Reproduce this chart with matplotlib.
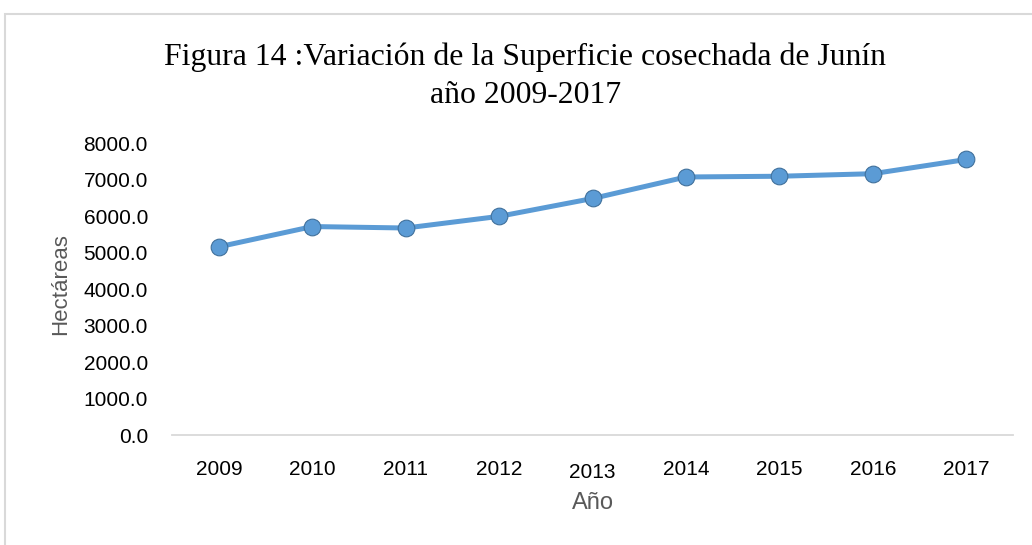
import matplotlib.pyplot as plt
from matplotlib.patches import Rectangle
import matplotlib.transforms as mtransforms

# data
years = ["2009", "2010", "2011", "2012", "2013", "2014", "2015", "2016", "2017"]
hectares = [5165, 5720, 5680, 6000, 6490, 7080, 7100, 7170, 7560]
yticks = [0, 1000, 2000, 3000, 4000, 5000, 6000, 7000, 8000]

title_lines = ["Figura 14 :Variación de la Superficie cosechada de Junín", "año 2009-2017"]
blue = "#5B9BD5"
grey = "#595959"

fig = plt.figure(figsize=(10.32, 5.45), dpi=100)
ax = fig.add_axes([0.167, 0.2018, 0.8146, 0.535])

x = list(range(len(years)))
ax.plot(x, hectares, color=blue, lw=3.6, marker="o", ms=12,
        markerfacecolor=blue, markeredgecolor="#41719C", markeredgewidth=0.8,
        solid_capstyle="round", zorder=3)

ax.set_xlim(-0.5, len(years) - 0.5)
ax.set_ylim(0, 8000)
ax.set_yticks(yticks)
ax.set_yticklabels([f"{v:.1f}" for v in yticks])
ax.set_xticks(x)
ax.set_xticklabels(years)
ax.tick_params(length=0, labelsize=15, labelcolor="#000000")
ax.tick_params(axis="y", pad=17.6)
ax.tick_params(axis="x", pad=18)
for lab in ax.get_xticklabels() + ax.get_yticklabels():
    lab.set_family("Liberation Sans")
# 2013 label sits a little lower in the original
lab13 = ax.get_xticklabels()[4]
lab13.set_transform(lab13.get_transform() + mtransforms.ScaledTranslation(0, -3 / 100, fig.dpi_scale_trans))

for s in ["top", "right", "left"]:
    ax.spines[s].set_visible(False)
ax.spines["bottom"].set_color("#D9D9D9")
ax.spines["bottom"].set_linewidth(1.3)

ax.set_ylabel("Hectáreas", fontsize=16, color=grey, family="Liberation Sans")
ax.yaxis.set_label_coords(-0.12, 0.518)
ax.set_xlabel("Año", fontsize=17, color=grey, family="Liberation Sans", labelpad=7)

fig.text(0.5087, 1 - 65 / 545, title_lines[0], ha="center", va="baseline",
         fontsize=22.9, family="Liberation Serif")
fig.text(0.5097, 1 - 102.7 / 545, title_lines[1], ha="center", va="baseline",
         fontsize=22.9, family="Liberation Serif")

# chart frame
fig.patches.append(Rectangle((5 / 1032, -0.05), 1.1, 1 - 14 / 545 + 0.05,
                             transform=fig.transFigure, fill=False,
                             edgecolor="#D9D9D9", lw=1.5))

fig.savefig("out.png", dpi=100)
